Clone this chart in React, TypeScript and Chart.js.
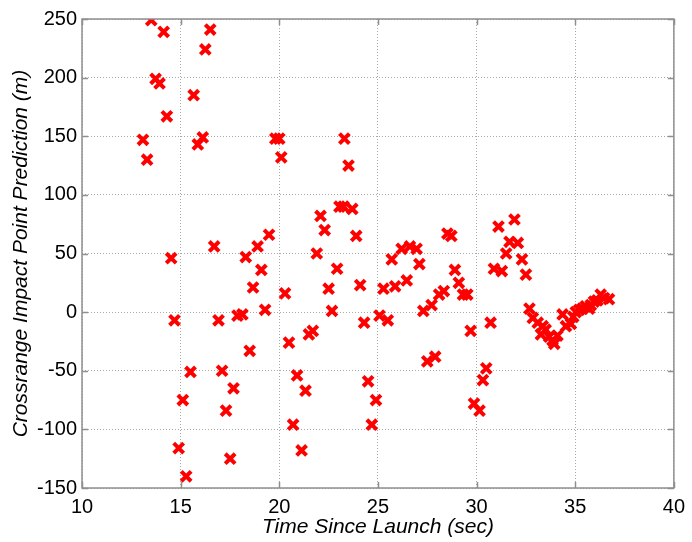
import React, { useEffect, useRef } from "react";
import { Chart, registerables } from "chart.js";

Chart.register(...registerables);

// Time since launch (sec)
const timeSec = [
  13.09, 13.3, 13.51, 13.73, 13.93, 14.14, 14.3, 14.52, 14.69, 14.9,
  15.11, 15.28, 15.5, 15.66, 15.87, 16.12, 16.25, 16.5, 16.7, 16.92,
  17.1, 17.3, 17.51, 17.68, 17.88, 18.13, 18.3, 18.5, 18.67, 18.9,
  19.09, 19.28, 19.48, 19.8, 20.0, 20.1, 20.29, 20.49, 20.7, 20.9,
  21.13, 21.33, 21.5, 21.7, 21.9, 22.09, 22.3, 22.5, 22.67, 22.93,
  23.05, 23.26, 23.3, 23.51, 23.7, 23.9, 24.1, 24.3, 24.5, 24.69,
  24.9, 25.08, 25.28, 25.5, 25.7, 25.87, 26.2, 26.46, 26.62, 26.96,
  27.1, 27.3, 27.5, 27.72, 27.9, 28.1, 28.34, 28.52, 28.72, 28.9,
  29.1, 29.31, 29.53, 29.7, 29.87, 30.15, 30.32, 30.49, 30.71, 30.88,
  31.11, 31.28, 31.5, 31.67, 31.92, 32.09, 32.3, 32.5, 32.68, 32.85,
  33.1, 33.26, 33.35, 33.5, 33.68, 33.85, 33.94, 34.1, 34.36, 34.53,
  34.78, 34.9, 35.03, 35.2, 35.37, 35.53, 35.7, 35.79, 35.95, 36.12,
  36.29, 36.46, 36.71,
];

// Crossrange impact point prediction (m)
const crossrange = [
  147, 130, 249, 199, 195, 239, 167, 46, -7, -116,
  -75, -140, -51, 185, 143, 149, 224, 241, 56, -7,
  -50, -84, -125, -65, -3, -2, 47, -33, 21, 56,
  36, 2, 66, 148, 148, 132, 16, -26, -96, -54,
  -118, -67, -19, -16, 50, 82, 70, 20, 1, 37,
  90, 90, 148, 125, 88, 65, 23, -9, -59, -96,
  -75, -3, 20, -7, 45, 22, 54, 27, 56, 54,
  41, 1, -42, 6, -38, 15, 18, 67, 65, 36,
  25, 15, 15, -16, -78, -84, -58, -48, -9, 37,
  73, 35, 50, 60, 79, 59, 45, 32, 3, -5,
  -9, -19, -12, -15, -21, -24, -27, -20, -2, -12,
  -10, -4, 0, 2, 3, 5, 3, 6, 9, 10,
  15, 12, 11,
];

const xTickValues = [10, 15, 20, 25, 30, 35, 40];
const yTickValues = [-150, -100, -50, 0, 50, 100, 150, 200, 250];

const xTitle = "Time Since Launch (sec)";
const yTitle = "Crossrange Impact Point Prediction (m)";

const framePlugin = {
  id: "matlabFrame",
  afterDraw(chart: any) {
    const { ctx, chartArea: a, scales } = chart;
    ctx.save();
    ctx.strokeStyle = "#8f8f8f";
    ctx.lineWidth = 1.5;
    ctx.strokeRect(a.left, a.top, a.right - a.left, a.bottom - a.top);
    const L = 6;
    ctx.beginPath();
    scales.x.ticks.forEach((t: any) => {
      const px = Math.round(scales.x.getPixelForValue(t.value)) + 0.5;
      ctx.moveTo(px, a.bottom);
      ctx.lineTo(px, a.bottom - L);
      ctx.moveTo(px, a.top);
      ctx.lineTo(px, a.top + L);
    });
    scales.y.ticks.forEach((t: any) => {
      const py = Math.round(scales.y.getPixelForValue(t.value)) + 0.5;
      ctx.moveTo(a.left, py);
      ctx.lineTo(a.left + L, py);
      ctx.moveTo(a.right, py);
      ctx.lineTo(a.right - L, py);
    });
    ctx.stroke();
    ctx.restore();
  },
};

export default function App() {
  const canvasRef = useRef<HTMLCanvasElement | null>(null);

  useEffect(() => {
    const canvas = canvasRef.current;
    if (!canvas) return;
    const points = timeSec.map((t, i) => ({ x: t, y: crossrange[i] }));
    const chart = new Chart(canvas, {
      type: "scatter",
      data: {
        datasets: [
          {
            label: "Crossrange",
            data: points,
            pointStyle: "crossRot",
            pointRadius: 7,
            pointHoverRadius: 7,
            pointBorderWidth: 4,
            borderColor: "#ff0000",
            backgroundColor: "#ff0000",
          },
        ],
      },
      options: {
        responsive: false,
        animation: false,
        devicePixelRatio: 1,
        layout: { padding: { top: 19, right: 15, left: 0, bottom: 0 } },
        plugins: {
          legend: { display: false },
          tooltip: { enabled: false },
        },
        scales: {
          x: {
            type: "linear",
            min: 10,
            max: 40,
            afterBuildTicks: (s: any) => {
              s.ticks = xTickValues.map((v) => ({ value: v }));
            },
            afterFit: (s: any) => {
              s.height = 54;
            },
            ticks: {
              color: "#000",
              padding: 7,
              font: { family: "Liberation Sans", size: 20 },
            },
            grid: {
              color: "#a8a8a8",
              lineWidth: 1,
              drawTicks: false,
            },
            border: { display: false, dash: [1, 2] },
            title: {
              display: true,
              text: xTitle,
              color: "#000",
              padding: { top: 0, bottom: 2 },
              font: { family: "Liberation Sans", size: 21, style: "italic" },
            },
          },
          y: {
            type: "linear",
            min: -150,
            max: 250,
            afterBuildTicks: (s: any) => {
              s.ticks = yTickValues.map((v) => ({ value: v }));
            },
            afterFit: (s: any) => {
              s.width = 82;
            },
            ticks: {
              color: "#000",
              padding: 5,
              font: { family: "Liberation Sans", size: 20 },
            },
            grid: {
              color: "#a8a8a8",
              lineWidth: 1,
              drawTicks: false,
            },
            border: { display: false, dash: [1, 2] },
            title: {
              display: true,
              text: yTitle,
              color: "#000",
              padding: { top: 9, bottom: 0 },
              font: { family: "Liberation Sans", size: 21, style: "italic" },
            },
          },
        },
      },
      plugins: [framePlugin],
    });
    return () => chart.destroy();
  }, []);

  return (
    <div
      style={{
        position: "fixed",
        left: 0,
        top: 0,
        width: 692,
        height: 542,
        background: "#fff",
      }}
    >
      <canvas ref={canvasRef} width={692} height={542} />
    </div>
  );
}
